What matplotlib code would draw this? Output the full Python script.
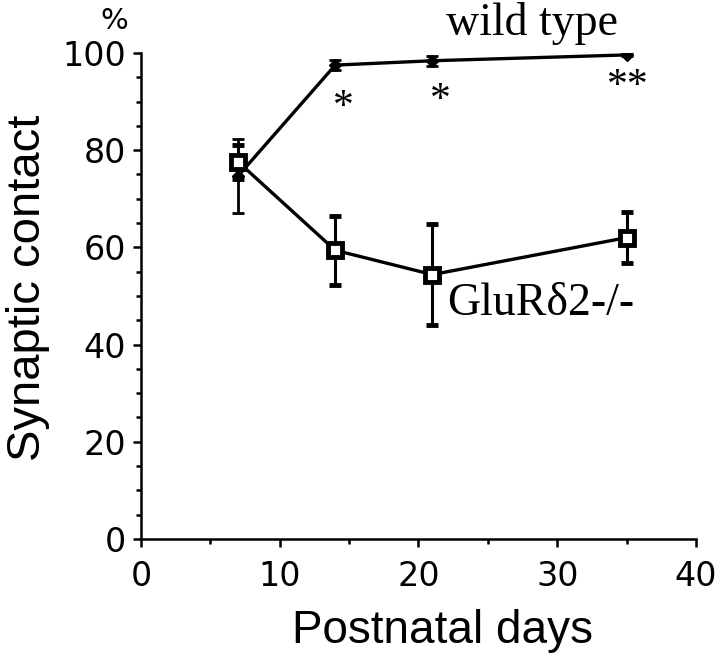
import numpy as np
import matplotlib.pyplot as plt
from matplotlib.ticker import MultipleLocator

# values
days = [7, 14, 21, 35]
wild = [74.7, 97.5, 98.4, 99.6]
wild_err = [7.6, 1.0, 1.0, 0.3]
ko = [77.6, 59.4, 54.4, 62.0]
ko_err = [3.5, 7.1, 10.4, 5.3]
star_days = [14.56, 21.55, 35.1]
star_y = [88.7, 90.1, 93.1]
star_txt = ['*', '*', '**']

fig = plt.figure(figsize=(7.2, 6.58), dpi=100)
ax = fig.add_axes([0.1958, 0.1809, 0.7708, 0.7386])

ax.errorbar(days, ko, yerr=ko_err, color='black', lw=2.4, capsize=4, capthick=2.2,
            elinewidth=2.2, marker='s', ms=9.5, mfc='white', mec='black', mew=3.5)
ax.errorbar(days, wild, yerr=wild_err, color='black', lw=2.4, capsize=4, capthick=2,
            elinewidth=2, marker='D', ms=6, mfc='black', mec='black')

for d, y, t in zip(star_days, star_y, star_txt):
    ax.text(d, y, t, fontsize=30, family='Liberation Serif', ha='center', va='center')

ax.text(28.2, 103.7, 'wild type', fontsize=33, family='Liberation Serif', ha='center',
        va='baseline', clip_on=False)
ax.text(22.05, 46.1, 'GluR\u03b42-/-', fontsize=33, family='Liberation Serif', ha='left',
        va='baseline')

ax.set_xlim(0, 40)
ax.set_ylim(0, 100)
ax.xaxis.set_major_locator(MultipleLocator(10))
ax.xaxis.set_minor_locator(MultipleLocator(5))
ax.yaxis.set_major_locator(MultipleLocator(20))
ax.yaxis.set_minor_locator(MultipleLocator(5))
for s in ['top', 'right']:
    ax.spines[s].set_visible(False)
for s in ['left', 'bottom']:
    ax.spines[s].set_linewidth(1.8)
ax.tick_params(which='major', length=6, width=1.8, labelsize=24, direction='out')
ax.tick_params(which='minor', length=3.5, width=1.8, direction='out')
ax.tick_params(axis='x', pad=9)
ax.tick_params(axis='y', pad=5)
for lbl in ax.get_xticklabels() + ax.get_yticklabels():
    lbl.set_family('DejaVu Sans')

fig.text(442 / 720, 1 - 643 / 658, 'Postnatal days', fontsize=33, family='Liberation Sans',
         ha='center', va='baseline')
fig.text(28 / 720, 1 - 288 / 658, 'Synaptic contact', fontsize=34, family='Liberation Sans',
         ha='center', va='center', rotation=90)
fig.text(114 / 720, 1 - 21 / 658, '%', fontsize=21, family='DejaVu Sans',
         ha='center', va='center')

fig.savefig('out.png', dpi=100)
